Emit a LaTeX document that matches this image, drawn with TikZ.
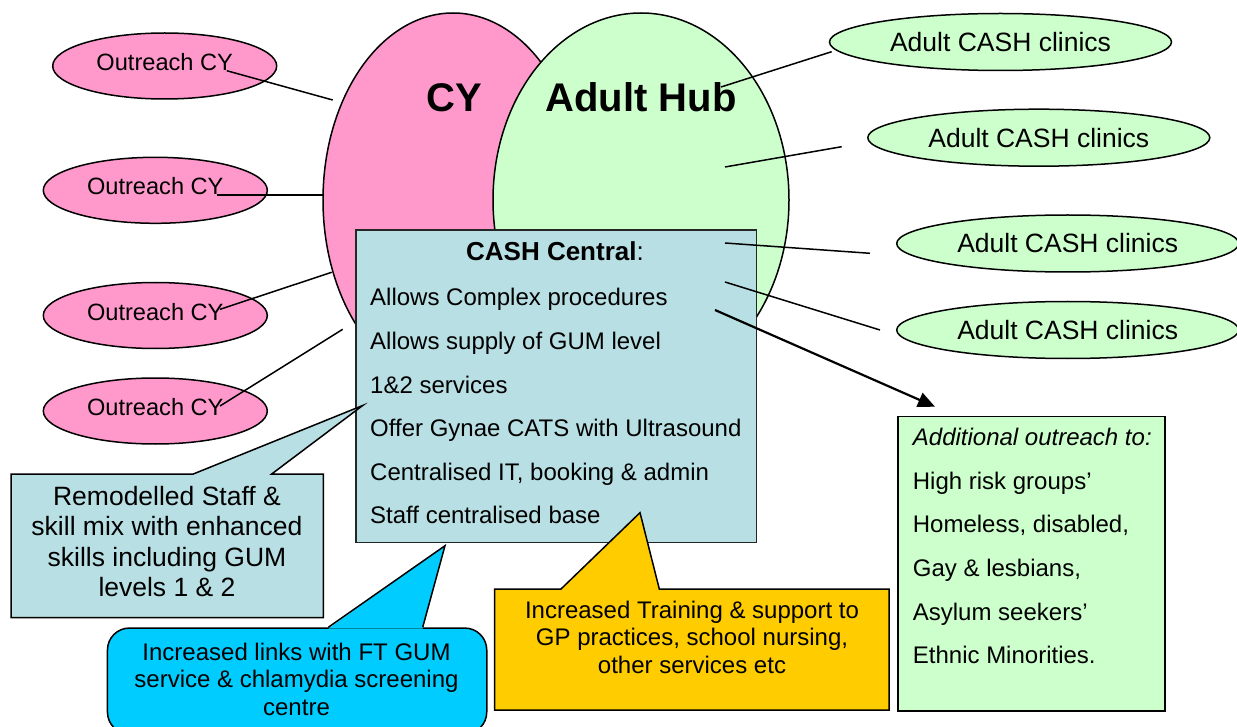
\documentclass[tikz,border=0pt]{standalone}
\usepackage{fontspec}
\setmainfont{Liberation Sans}
\usetikzlibrary{shapes.geometric,arrows.meta}

\definecolor{cypink}{HTML}{FF99CC}
\definecolor{hubgreen}{HTML}{CCFFCC}
\definecolor{centralblue}{HTML}{B8DFE3}
\definecolor{linkcyan}{HTML}{00CCFF}
\definecolor{trainyellow}{HTML}{FFCC00}

\newcommand{\pxfont}[2]{\fontsize{#1}{#2}\selectfont}

\tikzset{
    outline/.style={draw=black, line width=1.5pt},
    service/.style={outline, ellipse, minimum width=#1, minimum height=374pt, inner sep=0pt},
    outreach/.style={outline, ellipse, fill=cypink, minimum width=224pt, minimum height=66pt,
        inner sep=0pt, text depth=8pt, font=\pxfont{23.6}{28}},
    clinic/.style={outline, ellipse, fill=hubgreen, minimum width=342pt, minimum height=57pt,
        inner sep=0pt, font=\pxfont{26.5}{30}},
    boxline/.style={anchor=base west, inner sep=0pt, font=\pxfont{24}{28}},
    calltext/.style={anchor=base, align=center, inner sep=0pt},
    link/.style={line width=1.5pt},
}

\begin{document}
\begin{tikzpicture}[x=1pt, y=-1pt]
    \useasboundingbox (0,0) rectangle (1237,727);

    % the two services
    \node[service=260pt, fill=cypink] (cy) at (453,200) {};
    \node[service=296pt, fill=hubgreen] (hub) at (641,200) {};
    \node[anchor=base, font=\pxfont{40}{44}\bfseries] (cy label) at (454,111.7) {CY};
    \node[anchor=base, font=\pxfont{40}{44}\bfseries] (hub label) at (641,111.7) {Adult Hub};

    % central box
    \node[draw=black!85, line width=1.5pt, fill=centralblue, anchor=north west,
        minimum width=400.7pt, minimum height=312.4pt, inner sep=0pt] (central) at (355,229.3) {};
    \node[anchor=base, inner sep=0pt, font=\pxfont{26}{30}] (central title) at (555,260.7) {\textbf{CASH Central}:};
    \foreach \item [count=\i] in {Allows Complex procedures, Allows supply of GUM level, 1\&2 services,
        Offer Gynae CATS with Ultrasound, {Centralised IT, booking \& admin}, Staff centralised base}
        \node[boxline] (central \i) at (370,262.5+43.5*\i) {\item};

    % outreach and clinics
    \node[outreach] (outreach 1) at (164.7,66) {Outreach CY};
    \node[outreach] (outreach 2) at (155.3,190.3) {Outreach CY};
    \node[outreach] (outreach 3) at (155.3,315.5) {Outreach CY};
    \node[outreach] (outreach 4) at (155.3,411) {Outreach CY};

    \node[clinic] (clinic 1) at (1000.5,42) {Adult CASH clinics};
    \node[clinic] (clinic 2) at (1038.8,137.7) {Adult CASH clinics};
    \node[clinic] (clinic 3) at (1067.7,243.5) {Adult CASH clinics};
    \node[clinic] (clinic 4) at (1067.7,330) {Adult CASH clinics};

    \coordinate (o1 from) at (226.7,70.7);  \coordinate (o1 to) at (332.7,100);
    \coordinate (o2 from) at (216.7,195);   \coordinate (o2 to) at (323.3,195);
    \coordinate (o3 from) at (220,309.3);   \coordinate (o3 to) at (331.7,272.3);
    \coordinate (o4 from) at (220,406);     \coordinate (o4 to) at (342.7,329.3);
    \coordinate (c1 from) at (721,87);      \coordinate (c1 to) at (831.7,51.7);
    \coordinate (c2 from) at (725,167);     \coordinate (c2 to) at (841.7,146.7);
    \coordinate (c3 from) at (725,243);     \coordinate (c3 to) at (870,253.3);
    \coordinate (c4 from) at (725,282);     \coordinate (c4 to) at (880,330);
    \coordinate (reach from) at (715,310);  \coordinate (reach to) at (935,406.7);

    \foreach \k in {o1,o2,o3,o4,c1,c2,c3,c4}
        \draw[link] (\k\space from) -- (\k\space to);
    \draw[line width=2.2pt, -{Triangle[length=17pt,width=15pt]}] (reach from) -- (reach to);

    % extra outreach list
    \node[outline, fill=hubgreen, anchor=north west, minimum width=267pt, minimum height=294.3pt,
        inner sep=0pt] (reach) at (897.3,415.7) {};
    \node[boxline, font=\pxfont{24}{28}\itshape] (reach title) at (912.7,445.7) {Additional outreach to:};
    \foreach \group [count=\i] in {High risk groups', {Homeless, disabled,}, {Gay \& lesbians,},
        Asylum seekers', Ethnic Minorities.}
        \node[boxline] (reach \i) at (912.7,445.7+43.6*\i) {\group};

    % callouts (text anchored on the baseline of the last line)
    \draw[outline, fill=centralblue] (11,474) -- (193.3,474) -- (362.7,405.5) -- (271.7,474)
        -- (323.3,474) -- (323.3,617.7) -- (11,617.7) -- cycle;
    \node[calltext, font=\pxfont{26.5}{30.5}] (staff) at (167,596.7)
        {Remodelled Staff \&\\skill mix with enhanced\\skills including GUM\\levels 1 \& 2};

    \draw[outline, fill=trainyellow] (494.7,589) -- (561,589) -- (640,512.7) -- (659.3,589)
        -- (889,589) -- (889,710) -- (494.7,710) -- cycle;
    \node[calltext, font=\pxfont{24}{27.5}] (training) at (692,673.3)
        {Increased Training \& support to\\GP practices, school nursing,\\other services etc};

    \node[outline, fill=linkcyan, rounded corners=22pt, anchor=north west, minimum width=379.3pt,
        minimum height=106pt, inner sep=0pt] (links box) at (106.7,627.3) {};
    \fill[linkcyan] (328.3,628.6) -- (445,545.7) -- (422.7,628.6) -- cycle;
    \draw[outline, line join=miter] (328.3,627.3) -- (445,545.7) -- (422.7,627.3);
    \node[calltext, font=\pxfont{24}{27.2}] (links) at (296.5,715)
        {Increased links with FT GUM\\service \& chlamydia screening\\centre};
\end{tikzpicture}
\end{document}
